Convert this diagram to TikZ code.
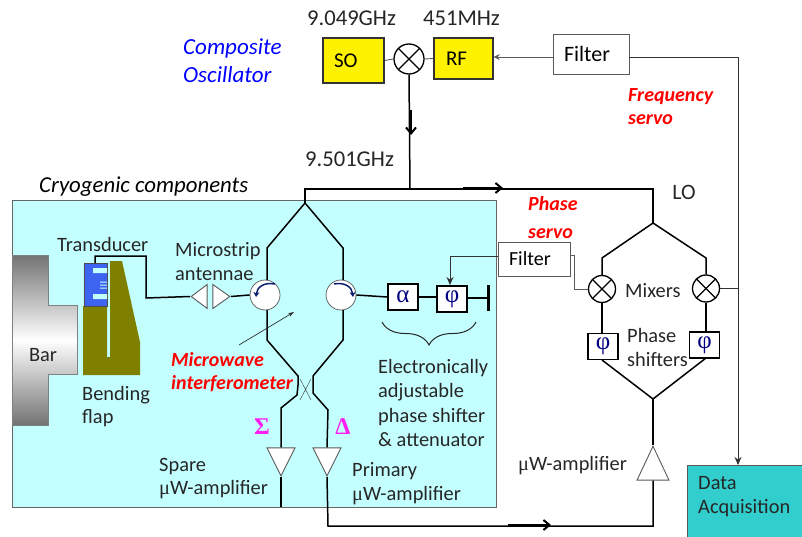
\documentclass[tikz,border=0pt]{standalone}
\usepackage{fontspec}
\setmainfont{Carlito}
\newfontfamily\symfont{Liberation Serif}
\usepackage{xcolor}
\usepackage{tikz}
\usetikzlibrary{shapes.geometric, arrows.meta, positioning, calc, decorations.pathreplacing}
\definecolor{cryocyan}{RGB}{196,255,255}
\definecolor{daqteal}{RGB}{50,205,205}
\definecolor{flapolive}{RGB}{128,128,0}
\definecolor{tdblue}{RGB}{60,100,240}
\definecolor{thingray}{RGB}{90,90,90}
\definecolor{circblue}{RGB}{10,30,110}
\definecolor{sumpink}{RGB}{255,30,240}
\tikzset{
  lbl/.style={font=\fontsize{20.4}{23.5}\selectfont, inner sep=0pt, align=left, text=black!85},
  freqlbl/.style={font=\fontsize{22.6}{25}\selectfont, inner sep=0pt, text=black!85},
  redlbl/.style={font=\fontsize{20}{23}\selectfont\bfseries\itshape, inner sep=0pt, align=left, text=red},
  bluelbl/.style={font=\fontsize{23}{28}\selectfont\itshape, inner sep=0pt, align=left, text=blue},
  sumlbl/.style={font=\fontsize{24}{26}\selectfont\symfont\bfseries, inner sep=0pt, text=sumpink},
  yellowbox/.style={rectangle, draw=black!80, fill=yellow, line width=1.3pt, inner sep=0pt,
    font=\fontsize{21}{24}\selectfont},
  filterbox/.style={rectangle, draw=thingray, fill=white, line width=0.9pt, inner sep=0pt,
    font=\fontsize{22}{24}\selectfont},
  phasebox/.style={rectangle, draw=black, fill=white, line width=1.4pt, inner sep=0pt,
    minimum width=30pt, minimum height=26pt, text=blue!50!black,
    font=\fontsize{25}{26}\selectfont\symfont},
  mixer/.style={circle, draw=black, fill=white, line width=1.3pt, minimum size=#1, inner sep=0pt,
    path picture={\draw[line width=1.3pt]
      (path picture bounding box.north west) -- (path picture bounding box.south east)
      (path picture bounding box.north east) -- (path picture bounding box.south west);}},
  circulator/.style={circle, draw=black!60, fill=white, line width=0.8pt, minimum size=30pt, inner sep=0pt},
  ampdown/.style={isosceles triangle, isosceles triangle stretches, shape border rotate=270,
    draw=thingray, fill=white, line width=0.9pt, inner sep=0pt, minimum width=28pt, minimum height=28pt, anchor=apex},
  ampup/.style={isosceles triangle, isosceles triangle stretches, shape border rotate=90,
    draw=thingray, fill=white, line width=0.9pt, inner sep=0pt, minimum width=32pt, minimum height=34pt, anchor=apex},
  antleft/.style={isosceles triangle, isosceles triangle stretches, shape border rotate=180,
    draw=thingray, fill=white, line width=0.9pt, inner sep=0pt, minimum width=24pt, minimum height=16pt, anchor=apex},
  antright/.style={isosceles triangle, isosceles triangle stretches, shape border rotate=0,
    draw=thingray, fill=white, line width=0.9pt, inner sep=0pt, minimum width=24pt, minimum height=17pt, anchor=apex},
  wire/.style={line width=1.5pt, color=black},
  thinwire/.style={line width=0.9pt, color=thingray},
  servoarrow/.style={-{Stealth[length=8pt,width=7pt]}, line width=0.9pt, color=black!80},
  flowarrow/.style={-{Straight Barb[length=6pt,width=10pt]}, line width=2pt, color=black}
}
\begin{document}
\begin{tikzpicture}[x=1pt, y=-1pt]
  \useasboundingbox (0,0) rectangle (802,537);
  \node[rectangle, draw=black!60, fill=cryocyan, line width=1pt, minimum width=484pt, minimum height=306pt,
    inner sep=0pt] (cryo) at (254,354) {};
  \node[rectangle, draw=thingray, fill=daqteal, line width=0.9pt, minimum width=115pt, minimum height=72pt,
    inner sep=0pt] (daq) at (744.5,501) {};

  \draw[draw=black!50, top color=black!55, bottom color=black!55, middle color=white, line width=0.8pt]
    (12,255) -- (48,255) -- (48,305) -- (77,305) -- (77,374) -- (48,374) -- (48,425) -- (12,425) -- cycle;
  \fill[flapolive] (110,261) -- (122,261) -- (140,342) -- (140,375) -- (83,375) -- (83,306) -- (107,306)
    -- (107,357) -- (110,357) -- cycle;
  \node[rectangle, draw=black!70, fill=tdblue, line width=0.8pt, minimum width=23pt, minimum height=43pt,
    inner sep=0pt] (trans) at (95.5,284.5) {};
  \fill[cryocyan] (93,268) rectangle (107,273) (93,294) rectangle (107,299);
  \fill[cryocyan] (100,281.5) rectangle (107,282.5) (100,284.5) rectangle (107,285.5) (100,287.5) rectangle (107,288.5);

  \node[antleft] (antl) at (190,296.5) {};
  \node[antright] (antr) at (231,296.5) {};
  \node[circulator] (circl) at (265,295) {};
  \node[circulator] (circr) at (341,295) {};
  \node[phasebox] (alpha) at (403,297) {α};
  \node[phasebox] (phi) at (452,299) {φ};
  \coordinate (term) at (488,298);
  \coordinate (apex) at (305,203);
  \coordinate (corner) at (305,189);
  \coordinate (lotop) at (653,189);
  \coordinate (loapex) at (653,223);
  \coordinate (forkend) at (653,399);

  \node[yellowbox, minimum width=61pt, minimum height=45pt, text width=39pt, align=left] (so) at (353.5,60.5) {SO};
  \node[mixer=30pt] (mixtop) at (409,59) {};
  \node[yellowbox, minimum width=59pt, minimum height=41pt, text width=35pt, align=left] (rf) at (463.5,58.5) {RF};
  \node[filterbox, minimum width=76pt, minimum height=40pt, text width=54pt, align=left] (filtf) at (591,54) {Filter};
  \node[filterbox, minimum width=72pt, minimum height=34pt, font=\fontsize{20}{22}\selectfont, text width=50pt, align=left] (filtp) at (534,259) {Filter};

  \node[mixer=27pt] (mixl) at (602,289) {};
  \node[mixer=27pt] (mixr) at (706,288.5) {};
  \node[phasebox] (phil) at (603,346.5) {φ};
  \node[phasebox] (phir) at (704.5,345) {φ};
  \node[ampup, minimum width=32pt] (ampo) at (653,445) {};
  \node[ampdown] (amps) at (281,477) {};
  \node[ampdown] (ampp) at (327,477) {};

  \draw[wire] (95,263) -- (95,256) -- (146,256) -- (146,298) -- (antl.apex);
  \draw[wire] (antr.apex) -- (circl.west);
  \draw[wire] (apex) -- (267,248) -- (267,280);
  \draw[wire] (apex) -- (343,248) -- (343,280);
  \draw[wire] (267,310) -- (267,340) -- (298,376) -- (298,385) -- (297,395) -- (281,408) -- (amps.lower side);
  \draw[wire] (343,310) -- (343,340) -- (313,376) -- (313,393) -- (328,410) -- (ampp.lower side);
  \draw[wire] (amps.apex) -- (281,507);
  \draw[wire] (circr.east) -- (alpha.west);
  \draw[wire] (alpha.east) -- (alpha.east -| phi.west);
  \draw[wire] (phi.east |- term) -- (term);
  \draw[line width=3pt] (488,285) -- (488,311);
  \draw[thin, black!80] (300,379) -- (311,400) (311,379) -- (300,400);

  \draw[wire] (apex) -- (corner) -- (lotop) -- (loapex);
  \draw[wire] (mixtop.south) -- (410,189);
  \draw[flowarrow] (411,110) -- (411,135);
  \draw[flowarrow] (463,188) -- (503,188);
  \draw[wire] (loapex) -- (602,258) -- (mixl.north);
  \draw[wire] (loapex) -- (706,258) -- (mixr.north);
  \draw[wire] (mixl.south) -- (phil.north -| mixl.south);
  \draw[wire] (mixr.south) -- (phir.north -| mixr.south);
  \draw[wire] (602,360) -- (forkend) -- (706,358);
  \draw[wire] (forkend) -- (ampo.apex);
  \draw[wire] (ampo.lower side) -- (653,526) -- (328,526) -- (ampp.apex);
  \draw[flowarrow] (508,525) -- (551,525);

  \draw[thinwire] (so.east) -- (mixtop.west);
  \draw[thinwire] (mixtop.east) -- (rf.west);
  \draw[servoarrow, -{Stealth[length=6pt,width=6pt]}, color=thingray] (filtf.west |- 0,57) -- (rf.east |- 0,57);
  \draw[servoarrow] (filtf.east |- 0,57) -- (738,57) -- (738,465);
  \draw[thinwire, black!80] (mixr.east) -- (738,288.5);
  \draw[thinwire] (filtp.east |- 0,255) -- (574,255) -- (574,289) -- (mixl.west);
  \draw[servoarrow] (filtp.west |- 0,256) -- (450,256) -- (450,285);
  \draw[-{Stealth[length=6pt,width=4pt]}, line width=0.7pt, black!80] (239,345) -- (294,312);

  \draw[line width=1.5pt, circblue, -{Stealth[length=5pt,width=6pt]}] (275,284) .. controls (264,282) and (257,287) .. (256,297);
  \draw[line width=1.5pt, circblue, -{Stealth[length=5pt,width=6pt]}] (334,284) .. controls (345,282) and (352,287) .. (353,297);
  \draw[decorate, decoration={brace, mirror, amplitude=23pt}, line width=1pt, black!85] (382,322) -- (476,322);

  \node[freqlbl, anchor=west] (f1) at (307,18) {9.049GHz};
  \node[freqlbl, anchor=west] (f2) at (423,18) {451MHz};
  \node[freqlbl, anchor=west] (f3) at (305,159) {9.501GHz};
  \node[bluelbl, anchor=west] (comp) at (183,61) {Composite\\Oscillator};
  \node[lbl, anchor=west, font=\fontsize{22.8}{25}\selectfont\itshape, text=black] (cryolbl) at (39,187) {Cryogenic components};
  \node[redlbl, anchor=west] (freqservo) at (628,106.5) {Frequency\\servo};
  \node[redlbl, anchor=west, font=\fontsize{20}{28}\selectfont\bfseries\itshape] (phaselbl) at (528,218) {Phase\\servo};
  \node[lbl, anchor=center, font=\fontsize{22}{24}\selectfont] (lolbl) at (684,192) {LO};
  \node[lbl, anchor=west] (translbl) at (57,244) {Transducer};
  \node[lbl, anchor=west] (antlbl) at (175,261.5) {Microstrip\\antennae};
  \node[lbl, anchor=center] (barlbl) at (43,355) {Bar};
  \node[lbl, anchor=west] (flaplbl) at (82,406.5) {Bending\\flap};
  \node[redlbl, anchor=west] (mwlbl) at (171,372.5) {Microwave\\interferometer};
  \node[sumlbl] (sigma) at (262,427) {Σ};
  \node[sumlbl] (delta) at (343,427) {Δ};
  \node[lbl, anchor=west] (sparelbl) at (159,478.5) {Spare\\{\symfont μ}W-amplifier};
  \node[lbl, anchor=west] (primlbl) at (352,483.5) {Primary\\{\symfont μ}W-amplifier};
  \node[lbl, anchor=west, font=\fontsize{20.4}{24.2}\selectfont] (shiftlbl) at (378,403) {Electronically\\adjustable\\phase shifter\\\& attenuator};
  \node[lbl, anchor=west] (mixlbl) at (625,291) {Mixers};
  \node[lbl, anchor=west] (shlbl) at (627,347.5) {Phase\\shifters};
  \node[lbl, anchor=west] (amplbl) at (518,466) {{\symfont μ}W-amplifier};
  \node[lbl, anchor=west] (daqlbl) at (698,496.5) {Data\\Acquisition};
\end{tikzpicture}
\end{document}
